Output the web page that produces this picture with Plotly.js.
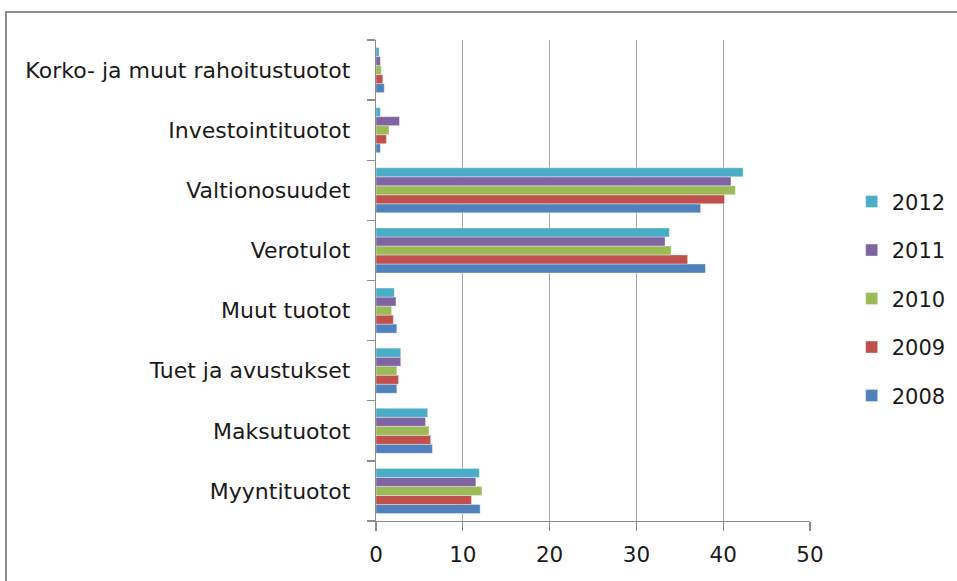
<!DOCTYPE html>
<html>
<head>
<meta charset="utf-8">
<script src="https://cdn.plot.ly/plotly-3.0.1.min.js"></script>
<style>
html, body { margin: 0; padding: 0; background: #fff; }
#frame { position: absolute; left: 5px; top: 11px; width: 2000px; height: 2000px; border-left: 2px solid #8c8c8c; border-top: 2px solid #8c8c8c; pointer-events: none; }
#chart { position: absolute; left: 0; top: 0; width: 957px; height: 581px; }
</style>
</head>
<body>
<div id="chart"></div>
<div id="frame"></div>
<script>
const categories = ["Myyntituotot", "Maksutuotot", "Tuet ja avustukset", "Muut tuotot", "Verotulot", "Valtionosuudet", "Investointituotot", "Korko- ja muut rahoitustuotot"];
const years = ["2008", "2009", "2010", "2011", "2012"];
const v2008 = [12.0, 6.5, 2.4, 2.4, 37.95, 37.4, 0.5, 0.95];
const v2009 = [11.0, 6.3, 2.6, 2.0, 35.9, 40.15, 1.2, 0.78];
const v2010 = [12.2, 6.1, 2.4, 1.8, 34.0, 41.4, 1.5, 0.6];
const v2011 = [11.5, 5.7, 2.85, 2.3, 33.3, 40.9, 2.7, 0.5];
const v2012 = [11.9, 5.95, 2.85, 2.1, 33.8, 42.3, 0.5, 0.35];
const seriesValues = [v2008, v2009, v2010, v2011, v2012];
const colors = ["#4F81BD", "#C0504D", "#9BBB59", "#8064A2", "#4BACC6"];
const tickVals = [0, 10, 20, 30, 40, 50];

const FONT = "'DejaVu Sans', sans-serif";
const FS_Y = 22;
const FS_X = 21.5;
const FS_L = 21;

const traces = years.map((y, i) => ({
  type: "bar",
  orientation: "h",
  name: y,
  x: seriesValues[i],
  y: categories,
  legendgroup: y,
  legendrank: 100 - i,
  marker: { color: colors[i], line: { color: "rgba(255,255,255,0.6)", width: 0.6 } },
  hoverinfo: "x+name"
}));

const layout = {
  width: 957,
  height: 581,
  margin: { l: 376, r: 147, t: 40, b: 60, autoexpand: false },
  paper_bgcolor: "#ffffff",
  plot_bgcolor: "#ffffff",
  barmode: "group",
  bargap: 0.25,
  bargroupgap: 0,
  font: { family: FONT, size: FS_Y, color: "#1a1a1a" },
  xaxis: {
    range: [0, 50],
    tickvals: tickVals,
    ticktext: tickVals.map(String),
    showgrid: true,
    gridcolor: "#a6a6a6",
    gridwidth: 1.3,
    zeroline: false,
    showline: true,
    linecolor: "#8c8c8c",
    linewidth: 1.3,
    ticks: "outside",
    ticklen: 9,
    tickcolor: "#8c8c8c",
    tickwidth: 1.3,
    ticklabelstandoff: 5,
    tickfont: { family: FONT, size: FS_X, color: "#1a1a1a" },
    automargin: false,
    fixedrange: true
  },
  yaxis: {
    type: "category",
    categoryorder: "array",
    categoryarray: categories,
    showgrid: false,
    zeroline: false,
    showline: true,
    linecolor: "#8c8c8c",
    linewidth: 1.3,
    ticks: "outside",
    tickson: "boundaries",
    ticklen: 8,
    tickcolor: "#8c8c8c",
    tickwidth: 1.3,
    ticklabelstandoff: 20,
    tickfont: { family: FONT, size: FS_Y, color: "#1a1a1a" },
    automargin: false,
    fixedrange: true
  },
  legend: {
    x: 1.096, xanchor: "left", xref: "paper",
    y: 0.706, yanchor: "top",
    traceorder: "grouped",
    tracegroupgap: 18.2,
    font: { family: FONT, size: FS_L, color: "#1a1a1a" },
    bgcolor: "rgba(0,0,0,0)",
    itemwidth: 30
  },
  showlegend: true
};

Plotly.newPlot("chart", traces, layout, { displayModeBar: false, staticPlot: true });
</script>
</body>
</html>
